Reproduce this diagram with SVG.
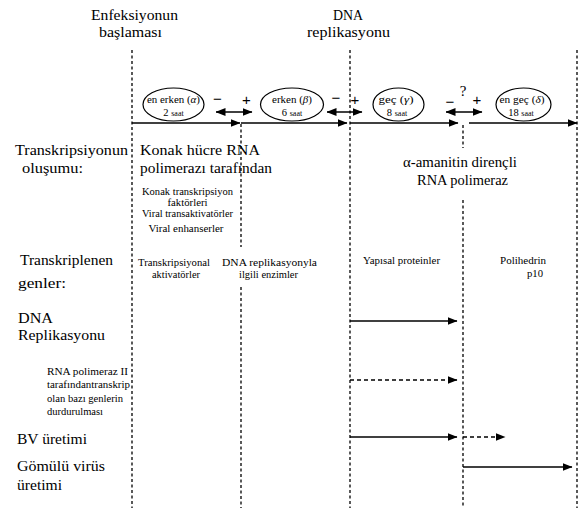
<svg xmlns="http://www.w3.org/2000/svg" width="583" height="508" viewBox="0 0 583 508">
<style>
text{font-family:'Liberation Serif','DejaVu Serif',serif;fill:#000}
.big{font-size:15px}
.mid{font-size:14px}
.sm{font-size:10.5px}
.el{font-size:10.5px}
.tiny{font-size:8px}
.vl{stroke:#000;stroke-width:1.3;stroke-dasharray:3 2.5;fill:none}
.ar{stroke:#000;stroke-width:1.3;fill:none}
.da{stroke:#000;stroke-width:1.3;fill:none;stroke-dasharray:4 3}
.ell{fill:#fff;stroke:#000;stroke-width:1.2}
.pm{font-family:'Liberation Sans','DejaVu Sans',sans-serif;font-size:15px}
</style>
<defs>
<marker id="ah" markerUnits="userSpaceOnUse" markerWidth="10" markerHeight="8" refX="9.5" refY="4" orient="auto-start-reverse">
<path d="M0,0 L10,4 L0,8 z" fill="#000"/>
</marker>
</defs>
<rect width="583" height="508" fill="#fff"/>

<g id="headers">
<text class="big" x="91" y="20" textLength="87" lengthAdjust="spacingAndGlyphs">Enfeksiyonun</text>
<text class="big" x="99" y="37" textLength="63" lengthAdjust="spacingAndGlyphs">başlaması</text>
<text class="big" x="333" y="20" textLength="30" lengthAdjust="spacingAndGlyphs">DNA</text>
<text class="big" x="307" y="37" textLength="83" lengthAdjust="spacingAndGlyphs">replikasyonu</text>
</g>

<g id="gridlines">
<line class="vl" x1="132" y1="50" x2="132" y2="508"/>
<line class="vl" x1="241" y1="124" x2="241" y2="247"/>
<line class="vl" x1="241" y1="287" x2="241" y2="508"/>
<line class="vl" x1="350" y1="50" x2="350" y2="508"/>
<line class="vl" x1="463" y1="125" x2="463" y2="148"/>
<line class="vl" x1="463" y1="200" x2="463" y2="508"/>
<line class="vl" x1="577" y1="50" x2="577" y2="508"/>
</g>

<g id="connectors">
<line class="ar" x1="132" y1="123" x2="240" y2="123" marker-end="url(#ah)"/>
<line class="ar" x1="241" y1="123" x2="347" y2="123" marker-end="url(#ah)"/>
<line class="ar" x1="350" y1="123" x2="458" y2="123" marker-end="url(#ah)"/>
<line class="ar" x1="469" y1="123" x2="577" y2="123" marker-end="url(#ah)"/>
<line class="ar" x1="216" y1="112" x2="252" y2="112" marker-start="url(#ah)" marker-end="url(#ah)"/>
<line class="ar" x1="327" y1="112" x2="362" y2="112" marker-start="url(#ah)" marker-end="url(#ah)"/>
<line class="ar" x1="446" y1="112" x2="482" y2="112" marker-start="url(#ah)" marker-end="url(#ah)"/>
<line class="ar" x1="350" y1="321" x2="457" y2="321" marker-end="url(#ah)"/>
<line class="da" x1="350" y1="380" x2="457" y2="380" marker-end="url(#ah)"/>
<line class="ar" x1="350" y1="437" x2="457" y2="437" marker-end="url(#ah)"/>
<line class="da" x1="463" y1="437" x2="505" y2="437" marker-end="url(#ah)"/>
<line class="ar" x1="463" y1="467" x2="572" y2="467" marker-end="url(#ah)"/>
</g>

<g id="signs">
<text class="pm" x="217.5" y="104" text-anchor="middle">−</text>
<text class="pm" x="246.5" y="105" text-anchor="middle">+</text>
<text class="pm" x="336" y="103" text-anchor="middle">−</text>
<text class="pm" x="355" y="105" text-anchor="middle">+</text>
<text class="pm" x="450" y="107" text-anchor="middle">−</text>
<text class="big" x="463" y="96" text-anchor="middle">?</text>
<text class="pm" x="477" y="105" text-anchor="middle">+</text>
</g>

<g id="phase-alpha">
<ellipse class="ell" cx="173.5" cy="104.5" rx="30.5" ry="16.5"/>
<text class="el" x="173.5" y="103" text-anchor="middle" textLength="53" lengthAdjust="spacingAndGlyphs">en erken (<tspan font-style="italic">α</tspan>)</text>
<text x="173.5" y="116" text-anchor="middle"><tspan class="el" font-size="11">2 </tspan><tspan class="tiny">saat</tspan></text>
</g>
<g id="phase-beta">
<ellipse class="ell" cx="292" cy="104.5" rx="31.5" ry="16.5"/>
<text class="el" x="292" y="103" text-anchor="middle" textLength="40" lengthAdjust="spacingAndGlyphs">erken (<tspan font-style="italic">β</tspan>)</text>
<text x="292" y="116" text-anchor="middle"><tspan class="el" font-size="11">6 </tspan><tspan class="tiny">saat</tspan></text>
</g>
<g id="phase-gamma">
<ellipse class="ell" cx="398.5" cy="104.5" rx="25.5" ry="16.5"/>
<text class="el" x="396" y="103" text-anchor="middle" textLength="35" lengthAdjust="spacingAndGlyphs">geç (<tspan font-style="italic">γ</tspan>)</text>
<text x="397" y="116" text-anchor="middle"><tspan class="el" font-size="11">8 </tspan><tspan class="tiny">saat</tspan></text>
</g>
<g id="phase-delta">
<ellipse class="ell" cx="523.5" cy="104.5" rx="27.5" ry="16.5"/>
<text class="el" x="522" y="103" text-anchor="middle" textLength="45" lengthAdjust="spacingAndGlyphs">en geç (<tspan font-style="italic">δ</tspan>)</text>
<text x="521" y="116" text-anchor="middle"><tspan class="el" font-size="11">18 </tspan><tspan class="tiny">saat</tspan></text>
</g>

<g id="row-transcription">
<text class="big" x="15" y="155" textLength="113" lengthAdjust="spacingAndGlyphs">Transkripsiyonun</text>
<text class="big" x="22" y="173" textLength="61" lengthAdjust="spacingAndGlyphs">oluşumu:</text>
<text class="big" x="140" y="155" textLength="120" lengthAdjust="spacingAndGlyphs">Konak hücre RNA</text>
<text class="big" x="140" y="173" textLength="132" lengthAdjust="spacingAndGlyphs">polimerazı tarafından</text>
<text class="sm" x="187.5" y="195" text-anchor="middle" textLength="91" lengthAdjust="spacingAndGlyphs">Konak transkripsiyon</text>
<text class="sm" x="187.5" y="206" text-anchor="middle" textLength="40" lengthAdjust="spacingAndGlyphs">faktörleri</text>
<text class="sm" x="187.5" y="217" text-anchor="middle" textLength="91" lengthAdjust="spacingAndGlyphs">Viral transaktivatörler</text>
<text class="sm" x="186" y="232" text-anchor="middle" textLength="75" lengthAdjust="spacingAndGlyphs">Viral enhanserler</text>
<text class="mid" x="403" y="167" textLength="114" lengthAdjust="spacingAndGlyphs">α-amanitin dirençli</text>
<text class="mid" x="417" y="185" textLength="91" lengthAdjust="spacingAndGlyphs">RNA polimeraz</text>
</g>

<g id="row-genes">
<text class="big" x="20" y="265" textLength="93" lengthAdjust="spacingAndGlyphs">Transkriplenen</text>
<text class="big" x="18" y="288" textLength="48" lengthAdjust="spacingAndGlyphs">genler:</text>
<text class="sm" x="174" y="266" text-anchor="middle" textLength="72" lengthAdjust="spacingAndGlyphs">Transkripsiyonal</text>
<text class="sm" x="176" y="278" text-anchor="middle" textLength="48" lengthAdjust="spacingAndGlyphs">aktivatörler</text>
<text class="sm" x="222" y="266" textLength="95" lengthAdjust="spacingAndGlyphs">DNA replikasyonyla</text>
<text class="sm" x="239" y="278" textLength="59" lengthAdjust="spacingAndGlyphs">ilgili enzimler</text>
<text class="sm" x="363" y="264" textLength="77" lengthAdjust="spacingAndGlyphs">Yapısal proteinler</text>
<text class="sm" x="500" y="264" textLength="46" lengthAdjust="spacingAndGlyphs">Polihedrin</text>
<text class="sm" x="527" y="277" textLength="16" lengthAdjust="spacingAndGlyphs">p10</text>
</g>

<g id="row-dna">
<text class="big" x="18" y="323" textLength="35" lengthAdjust="spacingAndGlyphs">DNA</text>
<text class="big" x="18" y="340" textLength="87" lengthAdjust="spacingAndGlyphs">Replikasyonu</text>
</g>

<g id="row-rnapol">
<text class="sm" x="47" y="375" textLength="81" lengthAdjust="spacingAndGlyphs">RNA polimeraz II</text>
<text class="sm" x="47" y="388" textLength="83" lengthAdjust="spacingAndGlyphs">tarafındantranskrip</text>
<text class="sm" x="47" y="402" textLength="76" lengthAdjust="spacingAndGlyphs">olan bazı genlerin</text>
<text class="sm" x="47" y="415" textLength="56" lengthAdjust="spacingAndGlyphs">durdurulması</text>
</g>

<g id="row-bv">
<text class="big" x="17" y="444" textLength="70" lengthAdjust="spacingAndGlyphs">BV üretimi</text>
</g>

<g id="row-occluded">
<text class="big" x="17" y="471" textLength="88" lengthAdjust="spacingAndGlyphs">Gömülü  virüs</text>
<text class="big" x="17" y="490" textLength="45" lengthAdjust="spacingAndGlyphs">üretimi</text>
</g>
</svg>
